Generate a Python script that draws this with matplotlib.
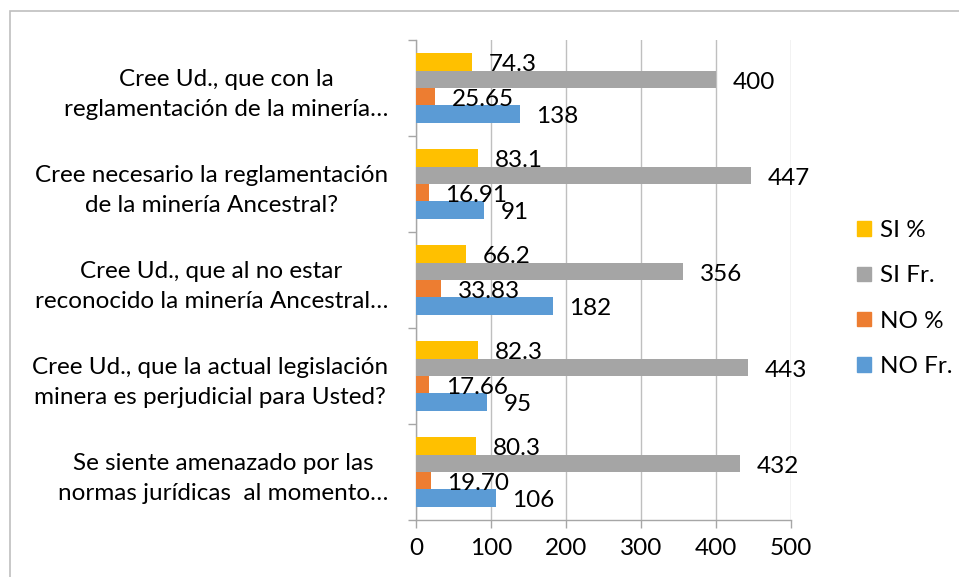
import matplotlib
matplotlib.use("Agg")
import matplotlib.pyplot as plt
from matplotlib.patches import Rectangle, Patch

plt.rcParams['font.family'] = ['Lato', 'DejaVu Sans']

categories = [
    "Cree Ud., que con la\nreglamentación de la minería…",
    "Cree necesario la reglamentación\nde la minería Ancestral?",
    "Cree Ud., que al no estar\nreconocido la minería Ancestral…",
    "Cree Ud., que la actual legislación\nminera es perjudicial para Usted?",
    "Se siente amenazado por las\nnormas jurídicas  al momento…",
]
si_pct = [74.3, 83.1, 66.2, 82.3, 80.3]
si_fr = [400, 447, 356, 443, 432]
no_pct = [25.65, 16.91, 33.83, 17.66, 19.70]
no_fr = [138, 91, 182, 95, 106]
x_ticks = [0, 100, 200, 300, 400, 500]

series = [
    ("SI %", si_pct, "#FFC000", "{:.1f}", -0.27),
    ("SI Fr.", si_fr, "#A5A5A5", "{:.0f}", -0.09),
    ("NO %", no_pct, "#ED7D31", "{:.2f}", 0.09),
    ("NO Fr.", no_fr, "#5B9BD5", "{:.0f}", 0.27),
]

FS = 17.5

fig = plt.figure(figsize=(9.59, 5.77), dpi=100)
ax = fig.add_axes([416/959, 1-520/577, (791-416)/959, (520-40)/577])

pos = list(range(len(categories)))
for name, vals, color, fmt, off in series:
    ys = [p + off for p in pos]
    ax.barh(ys, vals, height=0.18, color=color, zorder=3)
    for y, v in zip(ys, vals):
        ax.annotate(fmt.format(v), (v, y), xytext=(12, -2), textcoords='offset points',
                    va='center', ha='left', fontsize=FS, color='black', zorder=4)

ax.set_xlim(0, 500)
ax.set_ylim(4.5, -0.5)
ax.set_xticks(x_ticks)
ax.set_xticklabels([str(t) for t in x_ticks], fontsize=FS)
ax.set_yticks(pos)
ax.set_yticklabels(categories, fontsize=FS, multialignment='center', linespacing=1.55)
ax.set_yticks([p - 0.5 for p in pos] + [4.5], minor=True)
ax.tick_params(axis='y', which='major', length=0, pad=20)
ax.tick_params(axis='y', which='minor', length=6, color='#A6A6A6', width=1)
ax.tick_params(axis='x', length=6, color='#A6A6A6', width=1, pad=7)
ax.grid(axis='x', color='#BFBFBF', linewidth=1, zorder=0)
for s in ['top', 'right']:
    ax.spines[s].set_visible(False)
for s in ['left', 'bottom']:
    ax.spines[s].set_color('#A6A6A6')
    ax.spines[s].set_linewidth(1)

handles = [Patch(color=c, label=n) for n, _, c, _, _ in series]
fig.legend(handles=handles, loc='upper left', bbox_to_anchor=(845/959, 1-208/577),
           frameon=False, fontsize=FS, handlelength=0.55, handleheight=0.55,
           labelspacing=1.0, handletextpad=0.4, borderpad=0)

fig.patches.append(Rectangle((10/959, -0.05), 1.0, 1-11/577+0.05, transform=fig.transFigure,
                             fill=False, edgecolor='#BFBFBF', linewidth=1.2))

fig.savefig("out.png", dpi=100)
